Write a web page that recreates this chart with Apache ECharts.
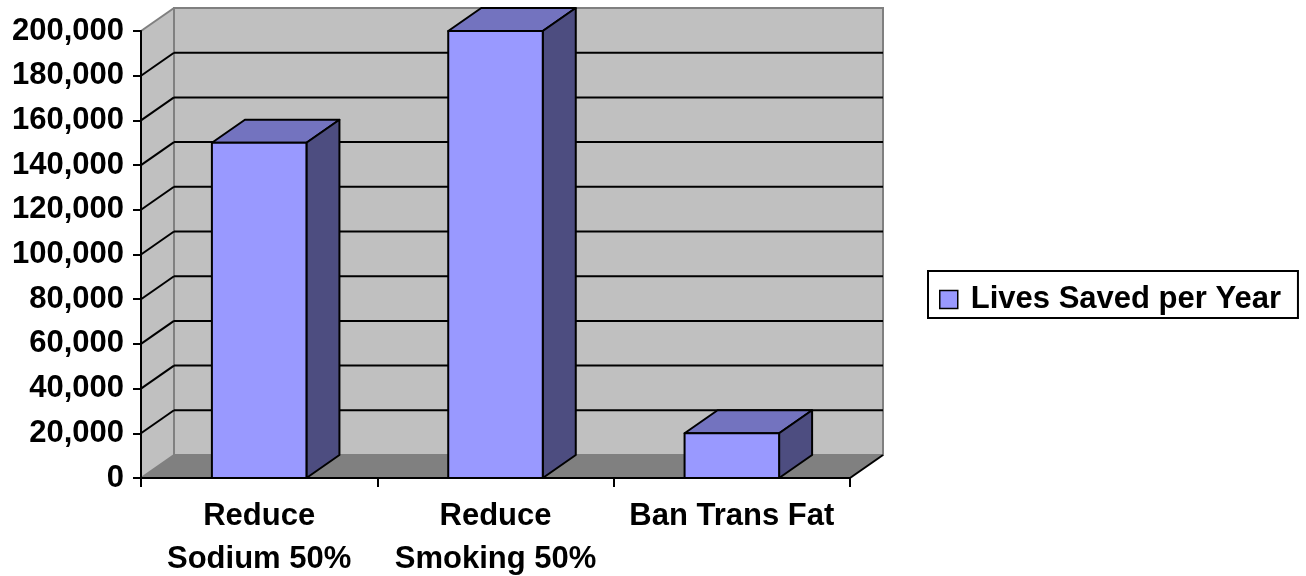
<!DOCTYPE html>
<html>
<head>
<meta charset="utf-8">
<script src="https://cdn.jsdelivr.net/npm/echarts@6/dist/echarts.min.js"></script>
<style>
  html, body { margin: 0; padding: 0; background: #ffffff; }
  #chart { width: 1306px; height: 576px; }
</style>
</head>
<body>
<div id="chart"></div>
<script>
// Chart data
const categories = ['Reduce\nSodium 50%', 'Reduce\nSmoking 50%', 'Ban Trans Fat'];
const livesSaved = [150000, 200000, 20000];
const seriesName = 'Lives Saved per Year';
const yTicks = [0, 20000, 40000, 60000, 80000, 100000, 120000, 140000, 160000, 180000, 200000];

// Pseudo-3D depth of the plot box (pixels)
const DEPTH_X = 33;
const DEPTH_Y = -23;
const FONT = '"Liberation Sans", Arial, Helvetica, sans-serif';

const WALL = '#C0C0C0';
const FLOOR = '#808080';
const EDGE = '#808080';

// Walls, floor and gridlines of the 3-D box
function renderFrame(params, api) {
  const cs = params.coordSys;
  const x0 = cs.x, x1 = cs.x + cs.width;
  const yt = cs.y, yb = cs.y + cs.height;
  const dx = DEPTH_X, dy = DEPTH_Y;
  const children = [];

  children.push({
    type: 'polygon',
    shape: { points: [[x0, yb], [x1, yb], [x1 + dx, yb + dy], [x0 + dx, yb + dy]] },
    style: { fill: FLOOR, stroke: null }
  });
  children.push({
    type: 'polygon',
    shape: { points: [[x0, yb], [x0, yt], [x0 + dx, yt + dy], [x0 + dx, yb + dy]] },
    style: { fill: WALL, stroke: null }
  });
  children.push({
    type: 'rect',
    shape: { x: x0 + dx, y: yt + dy, width: cs.width, height: cs.height },
    style: { fill: WALL, stroke: EDGE, lineWidth: 2 }
  });

  const maxV = yTicks[yTicks.length - 1];
  yTicks.forEach(function (v) {
    const y = api.coord([0, v])[1];
    const inner = v > 0 && v < maxV;
    const color = inner ? '#000000' : EDGE;
    if (inner) {
      children.push({
        type: 'line',
        shape: { x1: x0 + dx, y1: y + dy, x2: x1 + dx, y2: y + dy },
        style: { stroke: color, lineWidth: 2 }
      });
    }
    children.push({
      type: 'line',
      shape: { x1: x0, y1: y, x2: x0 + dx, y2: y + dy },
      style: { stroke: color, lineWidth: 2 }
    });
  });

  // right edge of the floor
  children.push({
    type: 'line',
    shape: { x1: x1, y1: yb, x2: x1 + dx, y2: yb + dy },
    style: { stroke: '#000000', lineWidth: 2 }
  });

  return { type: 'group', children: children };
}

// One 3-D column: top, side and front faces
function renderBar(params, api) {
  const cat = api.value(0);
  const v = api.value(1);
  const top = api.coord([cat, v]);
  const base = api.coord([cat, 0]);
  const w = api.size([1, 0])[0] * 0.4;
  const l = top[0] - w / 2, r = top[0] + w / 2;
  const yt = top[1], yb = base[1];
  const dx = DEPTH_X, dy = DEPTH_Y;
  const line = { stroke: '#000000', lineWidth: 2, lineJoin: 'round' };
  return {
    type: 'group',
    children: [
      {
        type: 'polygon',
        shape: { points: [[l, yt], [r, yt], [r + dx, yt + dy], [l + dx, yt + dy]] },
        style: Object.assign({ fill: '#7373BF' }, line)
      },
      {
        type: 'polygon',
        shape: { points: [[r, yt], [r + dx, yt + dy], [r + dx, yb + dy], [r, yb]] },
        style: Object.assign({ fill: '#4D4D80' }, line)
      },
      {
        type: 'rect',
        shape: { x: l, y: yt, width: w, height: yb - yt },
        style: Object.assign({ fill: '#9999FF' }, line)
      }
    ]
  };
}

const labelStyle = {
  color: '#000000',
  fontFamily: FONT,
  fontWeight: 'bold',
  fontSize: 31
};

const chart = echarts.init(document.getElementById('chart'), null, { renderer: 'canvas' });

chart.setOption({
  animation: false,
  backgroundColor: '#ffffff',
  grid: {
    left: 141, top: 31, width: 709, height: 447,
    containLabel: false,
    outerBoundsMode: 'none'
  },
  legend: {
    data: [{ name: seriesName, icon: 'rect' }],
    orient: 'vertical',
    left: 928,
    top: 271,
    padding: [13, 17, 3, 11],
    borderColor: '#000000',
    borderWidth: 2,
    itemWidth: 18,
    itemHeight: 18,
    itemStyle: { borderColor: '#000000', borderWidth: 1.5 },
    selectedMode: false,
    textStyle: Object.assign({ lineHeight: 26, padding: [0, 0, 0, 8] }, labelStyle)
  },
  xAxis: {
    type: 'category',
    data: categories,
    boundaryGap: true,
    z: 10,
    axisLine: { show: true, lineStyle: { color: '#000000', width: 2 } },
    axisTick: { show: true, length: 9, interval: 0, lineStyle: { color: '#000000', width: 2 } },
    axisLabel: Object.assign({ interval: 0, margin: 17, lineHeight: 43 }, labelStyle),
    splitLine: { show: false }
  },
  yAxis: {
    type: 'value',
    min: 0,
    max: 200000,
    interval: 20000,
    z: 10,
    axisLine: { show: true, lineStyle: { color: '#000000', width: 2 } },
    axisTick: { show: true, length: 8, lineStyle: { color: '#000000', width: 2 } },
    axisLabel: Object.assign({
      margin: 17,
      formatter: function (v) { return v.toLocaleString('en-US'); }
    }, labelStyle),
    splitLine: { show: false }
  },
  series: [
    {
      name: 'frame',
      type: 'custom',
      z: 1,
      silent: true,
      clip: false,
      renderItem: renderFrame,
      encode: { x: 0, y: 1 },
      data: [[0, 0]]
    },
    {
      name: seriesName,
      type: 'custom',
      z: 3,
      clip: false,
      itemStyle: { color: '#9999FF' },
      renderItem: renderBar,
      encode: { x: 0, y: 1 },
      data: livesSaved.map(function (v, i) { return [i, v]; })
    }
  ]
});
</script>
</body>
</html>
